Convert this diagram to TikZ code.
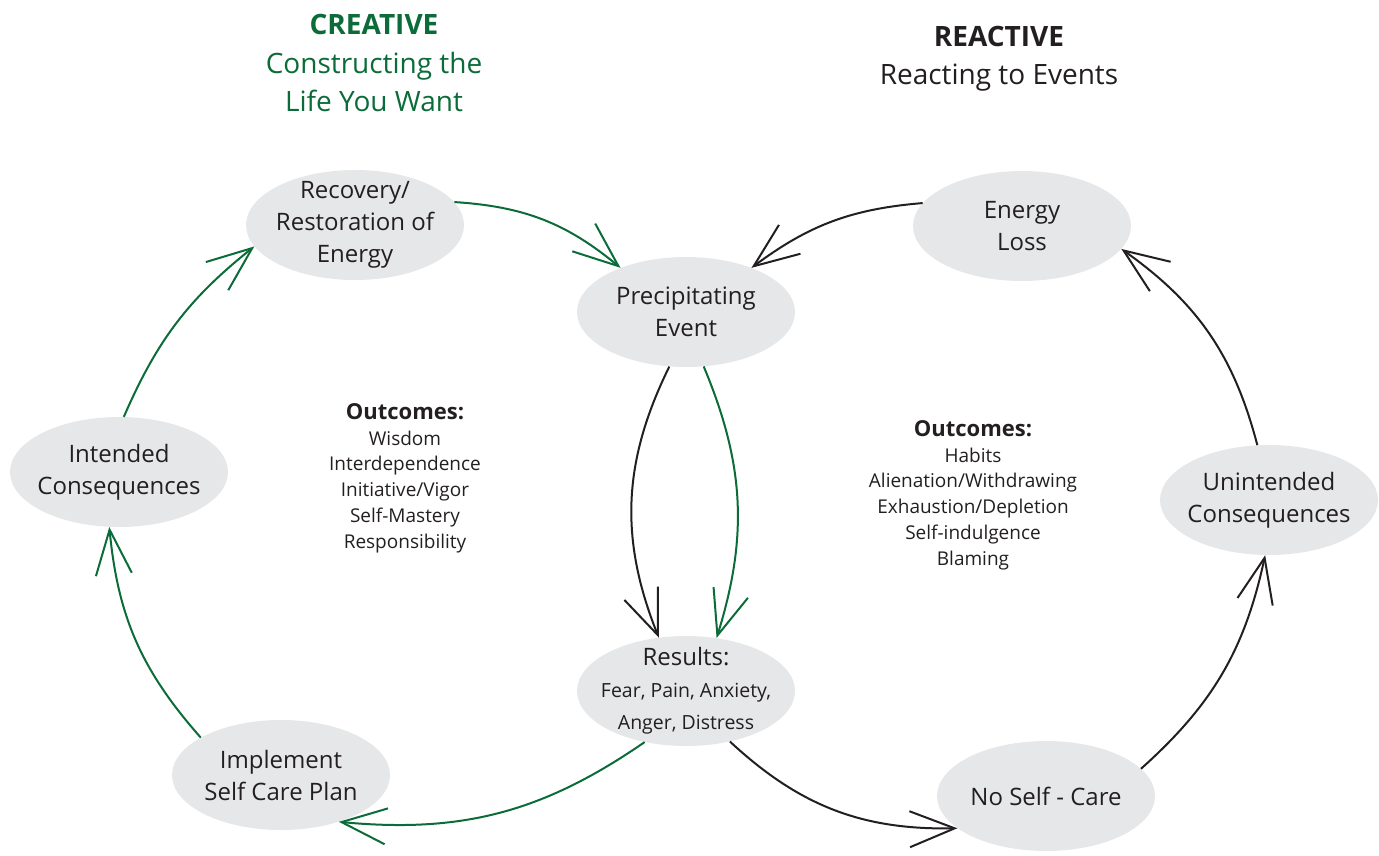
\documentclass[tikz,border=0pt]{standalone}
\usepackage{fontspec}
\setmainfont{Open Sans}
\usetikzlibrary{shapes.geometric,arrows.meta}
\definecolor{leaf}{HTML}{0B6B39}
\definecolor{ink}{HTML}{231F20}
\definecolor{bubble}{HTML}{E6E7E8}
\tikzset{
  stage/.style={ellipse, fill=bubble, minimum width=218pt, minimum height=110pt,
    inner sep=-14pt, align=center, text=ink, font=\fontsize{24}{32}\selectfont},
  flow/.style={line width=2pt, -{Straight Barb[length=45pt,width=36pt]}},
  good/.style={flow, draw=leaf},
  bad/.style={flow, draw=ink},
  heading/.style={font=\bfseries\fontsize{28}{34}\selectfont},
  subheading/.style={align=center, font=\fontsize{28}{38}\selectfont},
  outlist/.style={align=center, text=ink, font=\fontsize{19}{25.8}\selectfont},
}
\newcommand{\outhead}[1]{{\bfseries\fontsize{22}{26}\selectfont #1}}
\newcommand{\smallline}[1]{{\fontsize{19.5}{32}\selectfont #1}}
\begin{document}
\begin{tikzpicture}[x=1pt,y=-1pt]
\useasboundingbox (0,0) rectangle (1379,855);

% titles
\node[heading, text=leaf] (ctitle) at (374,24) {CREATIVE};
\node[subheading, text=leaf] (csub) at (374,82) {Constructing the\\Life You Want};
\node[heading, text=ink] (rtitle) at (999,36) {REACTIVE};
\node[subheading, text=ink] (rsub) at (999,78) {Reacting to Events};

% stages of the two cycles
\node[stage] (recov) at (355,225) {Recovery/\\Restoration of\\Energy};
\node[stage] (precip) at (686,312) {Precipitating\\Event};
\node[stage] (loss) at (1022,226) {Energy\\Loss};
\node[stage] (intended) at (119,472) {Intended\\Consequences};
\node[stage] (unintended) at (1269,500) {Unintended\\Consequences};
\node[stage] (results) at (686,691) {Results:\\\smallline{Fear, Pain, Anxiety,}\\\smallline{Anger, Distress}};
\node[stage] (implement) at (281,775) {Implement\\Self Care Plan};
\node[stage] (noself) at (1046,796) {No Self - Care};

% outcome lists
\node[outlist] (goodout) at (405,478) {\outhead{Outcomes:}\\Wisdom\\Interdependence\\Initiative/Vigor\\Self-Mastery\\Responsibility};
\node[outlist] (badout) at (973,495) {\outhead{Outcomes:}\\Habits\\Alienation/Withdrawing\\Exhaustion/Depletion\\Self-indulgence\\Blaming};

% creative cycle
\draw[good] (recov.13.5) to[bend left=18] (precip.146);
\draw[good] (precip.288) to[bend left=20] (results.60);
\draw[good] (results.231) to[bend left=20] (implement.321);
\draw[good] (implement.155) to[bend left=18] (intended.260);
\draw[good] (intended.85) to[bend left=14] (recov.192.5);

% reactive cycle
\draw[bad] (precip.253) to[bend right=24] (results.117);
\draw[bad] (results.311) to[bend right=22] (noself.200);
\draw[bad] (noself.16.5) to[bend right=18] (unintended.266);
\draw[bad] (unintended.102.5) to[bend right=20] (loss.347);
\draw[bad] (loss.167) to[bend right=16] (precip.34);
\end{tikzpicture}
\end{document}
